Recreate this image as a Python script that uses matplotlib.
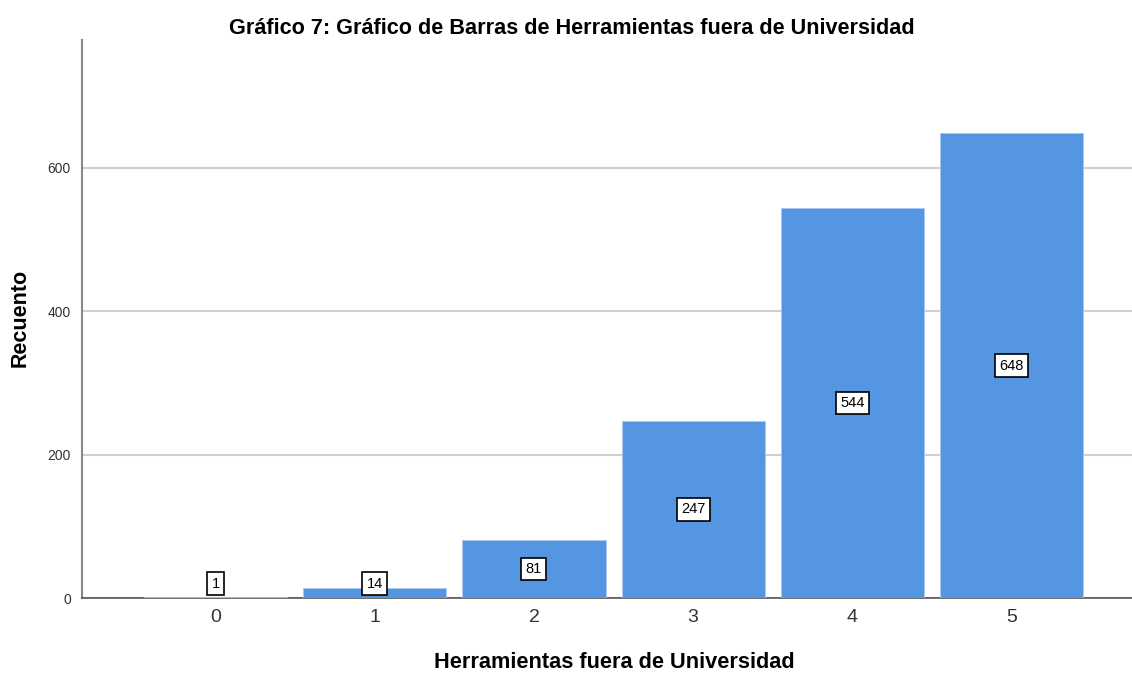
import matplotlib
matplotlib.use("Agg")
import matplotlib.pyplot as plt

categories = ["0", "1", "2", "3", "4", "5"]
counts = [1, 14, 81, 247, 544, 648]
yticks = [0, 200, 400, 600]

plt.rcParams['font.family'] = ['Liberation Sans', 'DejaVu Sans']

fig = plt.figure(figsize=(11.32, 6.73), dpi=100)
ax = fig.add_axes([82/1132, 1-598/673, 1.02-82/1132, (598-40)/673])

x = list(range(len(categories)))
ax.bar(x, counts, width=0.9, color="#5596E3", edgecolor="#a9c8ef", linewidth=0.6, zorder=3)

for xi, v in zip(x, counts):
    yl = max(v / 2, 20)
    ax.text(xi, yl, str(v), ha="center", va="center", fontsize=10.5, color="black", zorder=5,
            bbox=dict(boxstyle="square,pad=0.3", facecolor="white", edgecolor="black", linewidth=1.2))

ax.set_xlim(-0.84, 5.9)
ax.set_ylim(0, 778)
ax.set_xticks(x)
ax.set_xticklabels(categories, fontsize=14, color="#333333")
ax.set_yticks(yticks)
ax.set_yticklabels([str(t) for t in yticks], fontsize=10, color="#333333")
ax.tick_params(length=0, pad=8)
ax.tick_params(axis='y', pad=8)
ax.yaxis.grid(True, color="#cfcfcf", linewidth=1.5, zorder=0)
ax.set_axisbelow(True)

for s in ["top", "right"]:
    ax.spines[s].set_visible(False)
ax.spines["left"].set_color("#888888")
ax.spines["left"].set_linewidth(1.5)
ax.spines["bottom"].set_color("#555555")
ax.spines["bottom"].set_linewidth(1.2)

fig.text(572/1132, 1-28.5/673, "Gráfico 7: Gráfico de Barras de Herramientas fuera de Universidad",
         ha="center", va="center", fontsize=15.6, fontweight="bold")
fig.text(614/1132, 1-663/673, "Herramientas fuera de Universidad",
         ha="center", va="center", fontsize=15.7, fontweight="bold")
fig.text(20/1132, 1-318/673, "Recuento", rotation=90,
         ha="center", va="center", fontsize=15.5, fontweight="bold")

fig.savefig("out.png", dpi=100)
